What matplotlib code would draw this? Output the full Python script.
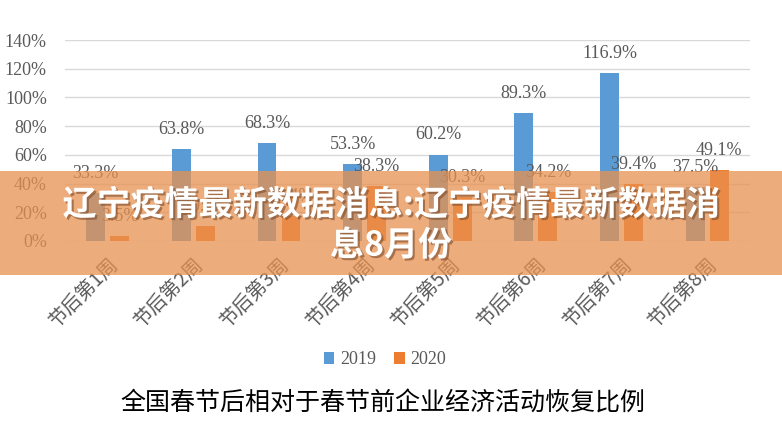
import numpy as np
import matplotlib
matplotlib.use("Agg")
import matplotlib.pyplot as plt
import matplotlib.patheffects as pe
from matplotlib.patches import Rectangle

plt.rcParams['font.family'] = ['Liberation Serif', 'Noto Sans CJK SC', 'DejaVu Sans']

weeks = ["节后第1周", "节后第2周", "节后第3周", "节后第4周",
         "节后第5周", "节后第6周", "节后第7周", "节后第8周"]
vals_2019 = [33.3, 63.8, 68.3, 53.3, 60.2, 89.3, 116.9, 37.5]
vals_2020 = [3.5, 10.4, 17.4, 38.3, 30.3, 34.2, 39.4, 49.1]
series_names = ["2019", "2020"]
y_ticks = [0, 20, 40, 60, 80, 100, 120, 140]
title = "全国春节后相对于春节前企业经济活动恢复比例"
banner = "辽宁疫情最新数据消息:辽宁疫情最新数据消\n息8月份"

blue = "#5B9BD5"
orange = "#ED7D31"
grey = "#595959"

fig = plt.figure(figsize=(7.82, 4.47), dpi=100)
ax = fig.add_axes([0.083, 0.461, 0.876, 0.4495])

x = np.arange(len(weeks))
w = 0.22
b1 = ax.bar(x - 0.14, vals_2019, w, color=blue, label=series_names[0], zorder=3)
b2 = ax.bar(x + 0.14, vals_2020, w, color=orange, label=series_names[1], zorder=3)

for bars, vals in ((b1, vals_2019), (b2, vals_2020)):
    for r, v in zip(bars, vals):
        ax.annotate(f"{v:.1f}%", (r.get_x() + r.get_width() / 2, v),
                    xytext=(0, 8), textcoords="offset points",
                    ha="center", va="bottom", fontsize=13, color=grey)

ax.set_xlim(-0.5, len(weeks) - 0.5)
ax.set_ylim(0, 140)
ax.set_yticks(y_ticks)
ax.set_yticklabels([f"{t}%" for t in y_ticks], fontsize=13, color=grey)
ax.yaxis.grid(True, color="#D9D9D9", linewidth=1, zorder=0)
ax.set_axisbelow(True)
for s in ax.spines.values():
    s.set_visible(False)
ax.tick_params(length=0, pad=13)
ax.tick_params(axis="x", pad=9)
ax.set_xticks(x)
ax.set_xticklabels(weeks, rotation=45, ha="right", rotation_mode="anchor",
                   fontsize=14, color=grey, family=["Noto Sans CJK SC"])

fig.legend(handles=[b1, b2], labels=series_names, loc="center",
           bbox_to_anchor=(0.492, 0.195), ncol=2, frameon=False,
           fontsize=13, handlelength=0.6, handleheight=0.6,
           handletextpad=0.3, columnspacing=1.0, labelcolor=grey)

fig.text(0.49, 0.098, title, ha="center", va="center", fontsize=18,
         color="black", family=["Noto Sans CJK SC"])

fig.patches.append(Rectangle((0, 0.385), 1, 0.232, transform=fig.transFigure,
                             facecolor="#E8914F", alpha=0.75, edgecolor="none",
                             zorder=10))
fig.text(0.5, 0.497, banner, ha="center", va="center", fontsize=24.5,
         fontweight="bold", color="white", linespacing=1.2,
         family=["Noto Sans CJK SC"], zorder=11,
         path_effects=[pe.withSimplePatchShadow(offset=(1.5, -1.5),
                                                shadow_rgbFace="#7a4a2a",
                                                alpha=0.6)])

fig.savefig("out.png", dpi=100)
